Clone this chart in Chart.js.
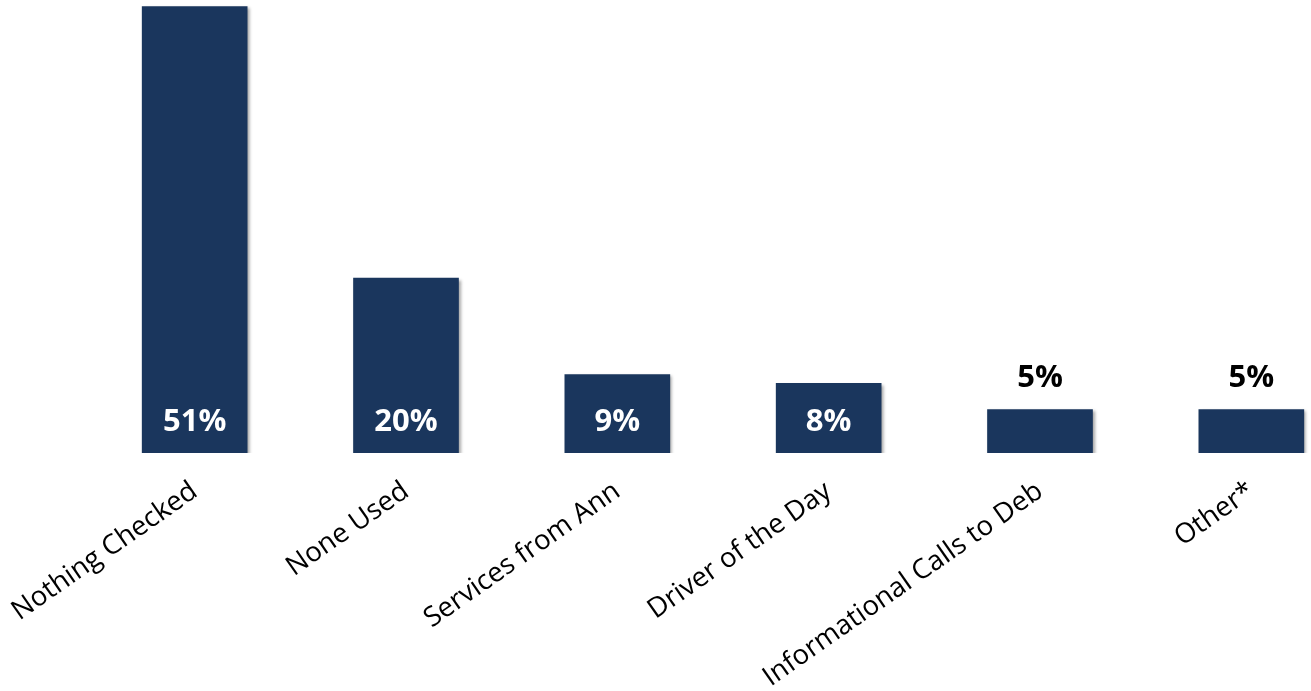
<!DOCTYPE html>
<html>
<head>
<meta charset="utf-8">
<script src="https://cdn.jsdelivr.net/npm/chart.js@4.4.1/dist/chart.umd.min.js"></script>
<style>
    html, body { margin: 0; padding: 0; background: #fff; overflow: hidden; }
    #wrap { position: absolute; left: 0; top: 0; width: 1357px; height: 691px; }
</style>
</head>
<body>
<div id="wrap"><canvas id="usageChart"></canvas></div>
<script>
// == Data ==
const categories = ["Nothing Checked", "None Used", "Services from Ann", "Driver of the Day", "Informational Calls to Deb", "Other*"];
const percents = [51, 20, 9, 8, 5, 5];
const valueLabels = ["51%", "20%", "9%", "8%", "5%", "5%"];

const barColor = '#1a365d';
const labelFont = '"Open Sans", sans-serif';

// labels inside tall bars (white) or above short ones (black)
const valueLabelPlugin = {
    id: 'valueLabels',
    beforeDatasetsDraw(chart) {
        const ctx = chart.ctx;
        ctx.save();
        ctx.shadowColor = 'rgba(0,0,0,0.35)';
        ctx.shadowOffsetX = 2;
        ctx.shadowOffsetY = 2;
        ctx.shadowBlur = 3;
    },
    afterDatasetsDraw(chart) {
        const ctx = chart.ctx;
        ctx.restore();
        ctx.save();
        const meta = chart.getDatasetMeta(0);
        ctx.font = 'bold 31px ' + labelFont;
        ctx.textAlign = 'center';
        ctx.textBaseline = 'middle';
        meta.data.forEach((bar, i) => {
            if (percents[i] >= 8) {
                ctx.fillStyle = '#ffffff';
                ctx.fillText(valueLabels[i], bar.x, bar.base - 31);
            } else {
                ctx.fillStyle = '#000000';
                ctx.fillText(valueLabels[i], bar.x, bar.y - 31);
            }
        });
        ctx.restore();
    }
};

new Chart(document.getElementById('usageChart'), {
    type: 'bar',
    plugins: [valueLabelPlugin],
    data: {
        labels: categories,
        datasets: [{
            data: percents,
            backgroundColor: barColor,
            borderWidth: 0,
            barPercentage: 0.5,
            categoryPercentage: 1
        }]
    },
    options: {
        responsive: true,
        maintainAspectRatio: false,
        animation: false,
        layout: { padding: { left: 89, right: 0, top: 0, bottom: 0 } },
        plugins: {
            legend: { display: false },
            tooltip: { enabled: false }
        },
        scales: {
            x: {
                grid: { display: false, drawTicks: false },
                border: { display: false },
                ticks: {
                    color: '#000',
                    font: { family: labelFont, size: 27.5 },
                    minRotation: 35,
                    maxRotation: 35,
                    autoSkip: false,
                    padding: 22
                },
                afterFit(scale) {
                    scale.height = 238;
                    scale.paddingLeft = 0;
                    scale.paddingRight = 0;
                }
            },
            y: {
                display: false,
                min: 0,
                max: 51.7
            }
        }
    }
});
</script>
</body>
</html>
